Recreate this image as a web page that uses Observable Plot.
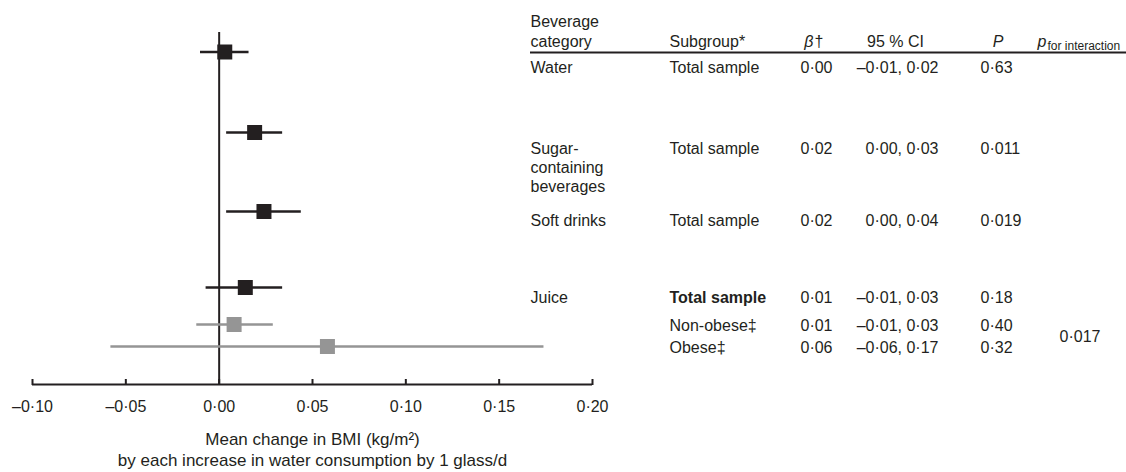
<!DOCTYPE html>
<html>
<head>
<meta charset="utf-8">
<script src="https://cdn.jsdelivr.net/npm/d3@7"></script>
<script src="https://cdn.jsdelivr.net/npm/@observablehq/plot@0.6"></script>
<style>
  html, body { margin: 0; padding: 0; background: #ffffff; }
  #chart { position: relative; width: 1126px; height: 472px; background: #ffffff; }
  #chart svg { position: absolute; top: 0; }
</style>
</head>
<body>
<div id="chart"></div>
<script>
// ---------------- data ----------------
const categories = ["Water", "Sugar-\ncontaining\nbeverages", "Soft drinks", "Juice", "", ""];
const subgroups = ["Total sample", "Total sample", "Total sample", "Total sample", "Non-obese‡", "Obese‡"];
const boldSubgroup = [false, false, false, true, false, false];
const groups = ["total", "total", "total", "total", "nonobese", "obese"];
const estimates = [0.003, 0.019, 0.024, 0.014, 0.008, 0.058];
const lowerCI = [-0.010, 0.004, 0.004, -0.007, -0.012, -0.058];
const upperCI = [0.016, 0.034, 0.044, 0.034, 0.029, 0.174];
const betaText = ["0·00", "0·02", "0·02", "0·01", "0·01", "0·06"];
const ciText = ["–0·01, 0·02", "0·00, 0·03", "0·00, 0·04", "–0·01, 0·03", "–0·01, 0·03", "–0·06, 0·17"];
const pText = ["0·63", "0·011", "0·019", "0·18", "0·40", "0·32"];
const pInteraction = "0·017";
const xTicks = [-0.10, -0.05, 0, 0.05, 0.10, 0.15, 0.20];
const xTitle = "Mean change in BMI (kg/m²)\nby each increase in water consumption by 1 glass/d";

// ---------------- layout (vertical positions in "line" units of 20px) ----------------
const plotRowLine = [2.575, 6.6, 10.55, 14.35, 16.2, 17.3];
const tableRowLine = [3.615, 7.65, 11.265, 15.1, 16.515, 17.6];
const interactionLine = 17.065;
const headerLine = 2.325, ruleLine = 2.6, subscriptLine = 2.475;
const zeroTopLine = 1.6, axisLine = 19.2, tickTopLine = 18.95;
const CATLH = 1.2; // line height (em) in the category column
const COL = {cat: 0, sub: 139, beta: 286, ci: 408, p: 450, pint: 529,
             hBeta: 283, hCI: 365, hP: 467.5, hp: 507, hSub: 517};

const ink = "#231f20", grey = "#959595";
const font = "'Liberation Sans', Arial, Helvetica, sans-serif";
const fmt = d => (d < 0 ? "–" : "") + Math.abs(d).toFixed(2).replace(".", "·");
const yScale = {domain: [0, 23.6], range: [0, 472], axis: null};
const baseStyle = {fontFamily: font, fontSize: "16px", color: ink, background: "transparent", overflow: "visible"};

const rows = estimates.map((e, i) => ({est: e, lo: lowerCI[i], hi: upperCI[i], group: groups[i], line: plotRowLine[i]}));

const forest = Plot.plot({
  width: 1126, height: 472,
  marginLeft: 32, marginRight: 534, marginTop: 0, marginBottom: 88,
  x: {domain: [-0.1, 0.2]},
  y: yScale,
  color: {domain: ["total", "nonobese", "obese"], range: [ink, grey, grey]},
  style: baseStyle,
  marks: [
    Plot.ruleX([0], {y1: zeroTopLine, y2: axisLine, stroke: ink, strokeWidth: 2}),
    Plot.ruleY([axisLine], {stroke: ink, strokeWidth: 2}),
    Plot.ruleX(xTicks, {y1: tickTopLine, y2: axisLine + 0.05, stroke: ink, strokeWidth: 2}),
    Plot.axisX(xTicks, {tickSize: 0, tickPadding: 16, tickFormat: fmt, fontSize: 16, label: null}),
    Plot.ruleY(rows, {x1: "lo", x2: "hi", y: "line", stroke: "group", strokeWidth: 2.6}),
    Plot.dot(rows, {x: "est", y: "line", symbol: "square", r: 15 / Math.sqrt(Math.PI), fill: "group", stroke: "none"}),
    Plot.text([xTitle], {frameAnchor: "bottom", dy: 81.7, lineAnchor: "bottom", lineHeight: 1.22, fontSize: 17})
  ]
});
forest.style.left = "0px";

const tRows = categories.map((c, i) => ({
  cat: c, sub: subgroups[i], bold: boldSubgroup[i], beta: betaText[i], ci: ciText[i], p: pText[i],
  line: tableRowLine[i], nLines: c.split("\n").length
}));

const table = Plot.plot({
  width: 596, height: 472, margin: 0,
  x: {domain: [0, 596], range: [0, 596], axis: null},
  y: yScale,
  style: baseStyle,
  marks: [
    Plot.ruleY([ruleLine], {stroke: ink, strokeWidth: 2}),
    // header
    Plot.text(["Beverage\ncategory"], {x: COL.cat, y: headerLine, textAnchor: "start", lineAnchor: "bottom", lineHeight: 1.25}),
    Plot.text(["Subgroup*"], {x: COL.sub, y: headerLine, textAnchor: "start", lineAnchor: "bottom"}),
    Plot.text(["β"], {x: COL.hBeta, y: headerLine, textAnchor: "end", lineAnchor: "bottom", fontStyle: "italic"}),
    Plot.text(["†"], {x: COL.hBeta + 1, y: headerLine, textAnchor: "start", lineAnchor: "bottom"}),
    Plot.text(["95 % CI"], {x: COL.hCI, y: headerLine, textAnchor: "middle", lineAnchor: "bottom"}),
    Plot.text(["P"], {x: COL.hP, y: headerLine, textAnchor: "middle", lineAnchor: "bottom", fontStyle: "italic"}),
    Plot.text(["p"], {x: COL.hp, y: headerLine, textAnchor: "start", lineAnchor: "bottom", fontStyle: "italic"}),
    Plot.text(["for interaction"], {x: COL.hSub, y: subscriptLine, textAnchor: "start", lineAnchor: "bottom", fontSize: 12}),
    // body
    Plot.text(tRows, {x: COL.cat, y: d => d.line + (d.nLines - 1) * CATLH * 16 / 20, text: "cat", textAnchor: "start", lineAnchor: "bottom", lineHeight: CATLH}),
    Plot.text(tRows.filter(d => !d.bold), {x: COL.sub, y: "line", text: "sub", textAnchor: "start", lineAnchor: "bottom"}),
    Plot.text(tRows.filter(d => d.bold), {x: COL.sub, y: "line", text: "sub", textAnchor: "start", lineAnchor: "bottom", fontWeight: "bold"}),
    Plot.text(tRows, {x: COL.beta, y: "line", text: "beta", textAnchor: "middle", lineAnchor: "bottom"}),
    Plot.text(tRows, {x: COL.ci, y: "line", text: "ci", textAnchor: "end", lineAnchor: "bottom"}),
    Plot.text(tRows, {x: COL.p, y: "line", text: "p", textAnchor: "start", lineAnchor: "bottom"}),
    Plot.text([pInteraction], {x: COL.pint, y: interactionLine, textAnchor: "start", lineAnchor: "bottom"})
  ]
});
table.style.left = "530px";

const chart = document.getElementById("chart");
chart.appendChild(forest);
chart.appendChild(table);
</script>
</body>
</html>
